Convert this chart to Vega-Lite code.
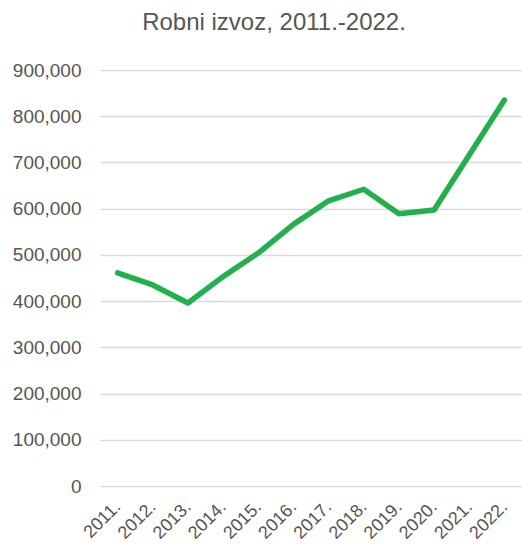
{
  "$schema": "https://vega.github.io/schema/vega-lite/v6.json",
  "width": 422,
  "height": 416,
  "autosize": "none",
  "padding": {"left": 100, "top": 70, "right": 0, "bottom": 61},
  "background": "white",
  "title": {
    "text": "Robni izvoz, 2011.-2022.",
    "fontSize": 24,
    "font": "Liberation Sans",
    "fontWeight": "normal",
    "color": "#555555",
    "anchor": "middle",
    "frame": "group",
    "dx": -37,
    "offset": 26
  },
  "data": {
    "values": [
      {"godina": "2011.", "izvoz": 461000},
      {"godina": "2012.", "izvoz": 435000},
      {"godina": "2013.", "izvoz": 396000},
      {"godina": "2014.", "izvoz": 453000},
      {"godina": "2015.", "izvoz": 504000},
      {"godina": "2016.", "izvoz": 566000},
      {"godina": "2017.", "izvoz": 617000},
      {"godina": "2018.", "izvoz": 642000},
      {"godina": "2019.", "izvoz": 589000},
      {"godina": "2020.", "izvoz": 597000},
      {"godina": "2021.", "izvoz": 716000},
      {"godina": "2022.", "izvoz": 835000}
    ]
  },
  "mark": {"type": "line", "color": "#21b04b", "strokeWidth": 5.5, "strokeCap": "round", "strokeJoin": "round"},
  "encoding": {
    "x": {
      "field": "godina",
      "type": "ordinal",
      "scale": {"type": "point", "padding": 0.5},
      "axis": {
        "title": null,
        "domain": false,
        "ticks": false,
        "grid": false,
        "labelAngle": -45,
        "labelAlign": "right",
        "labelBaseline": "middle",
        "labelFontSize": 18,
        "labelFont": "Liberation Sans",
        "labelColor": "#555555",
        "labelPadding": 18
      }
    },
    "y": {
      "field": "izvoz",
      "type": "quantitative",
      "scale": {"domain": [0, 900000], "nice": false},
      "axis": {
        "title": null,
        "domain": false,
        "ticks": false,
        "values": [0, 100000, 200000, 300000, 400000, 500000, 600000, 700000, 800000, 900000],
        "format": ",.0f",
        "labelFontSize": 19,
        "labelFont": "Liberation Sans",
        "labelColor": "#555555",
        "labelPadding": 19,
        "gridColor": "#d9d9d9",
        "gridWidth": 1.5
      }
    }
  },
  "config": {"view": {"stroke": null}}
}
